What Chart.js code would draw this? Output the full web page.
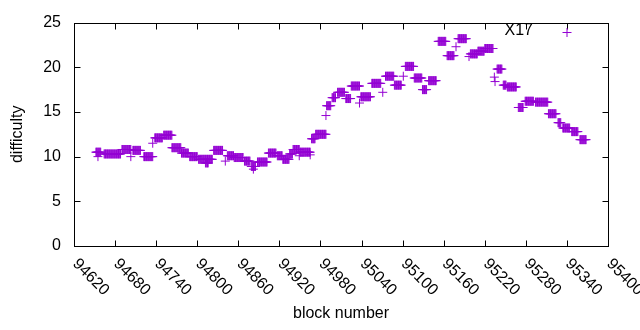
<!DOCTYPE html>
<html>
<head>
<meta charset="utf-8">
<script src="https://cdn.jsdelivr.net/npm/chart.js@4"></script>
<style>
  html, body { margin: 0; padding: 0; background: #fff; }
</style>
</head>
<body>
<canvas id="chart" width="640" height="330"></canvas>
<script>
// runs of blocks that share one difficulty value (first block, last block, difficulty)
const runStart = [94652, 94655, 94664, 94690, 94703, 94706, 94722, 94735, 94738, 94751,
  94763, 94764, 94777, 94789, 94802, 94812, 94824, 94841, 94844, 94854,
  94869, 94879, 94882, 94888, 94904, 94917, 94925, 94935, 94940, 94949,
  94950, 94965, 94967, 94973, 94988, 94989, 94997, 95005, 95017, 95025,
  95037, 95039, 95055, 95071, 95075, 95088, 95101, 95104, 95117, 95129,
  95138, 95152, 95165, 95178, 95181, 95197, 95199, 95210, 95220, 95234,
  95235, 95238, 95247, 95253, 95269, 95279, 95294, 95313, 95327, 95334,
  95347, 95359];
const runEnd = [94659, 94655, 94688, 94703, 94703, 94717, 94735, 94735, 94749, 94763,
  94763, 94776, 94787, 94800, 94822, 94816, 94837, 94841, 94853, 94867,
  94877, 94885, 94882, 94902, 94915, 94924, 94934, 94939, 94949, 94949,
  94965, 94965, 94972, 94988, 94988, 94995, 95002, 95015, 95024, 95037,
  95037, 95053, 95068, 95071, 95087, 95098, 95101, 95116, 95128, 95135,
  95149, 95163, 95175, 95178, 95193, 95197, 95209, 95219, 95232, 95234,
  95235, 95245, 95251, 95266, 95276, 95291, 95312, 95324, 95331, 95344,
  95356, 95368];
const runDiff = [10.5, 10.0, 10.3, 10.8, 10.0, 10.7, 10.0, 11.5, 12.1, 12.4,
  11.0, 11.0, 10.4, 10.0, 9.7, 9.3, 10.7, 9.5, 10.1, 9.9,
  9.5, 8.9, 8.6, 9.4, 10.4, 10.1, 9.7, 10.3, 10.8, 10.1,
  10.5, 10.2, 12.0, 12.5, 14.6, 15.7, 16.6, 17.2, 16.5, 17.9,
  16.0, 16.7, 18.2, 17.2, 19.0, 18.0, 19.0, 20.1, 18.8, 17.5,
  18.5, 22.9, 21.3, 22.3, 23.2, 21.2, 21.5, 21.8, 22.1, 18.9,
  18.4, 19.8, 18.0, 17.8, 15.5, 16.2, 16.1, 14.8, 13.8, 13.2,
  12.8, 11.9];

const xTicks = [94620, 94680, 94740, 94800, 94860, 94920, 94980, 95040, 95100, 95160, 95220, 95280, 95340, 95400];
const yTicks = [0, 5, 10, 15, 20, 25];
const seriesName = 'X17';

const purple = '#9400d3';
const font = '"Liberation Sans", Arial, sans-serif';

const points = [];
runStart.forEach((s, i) => {
  for (let b = s; b <= runEnd[i]; b++) points.push({ x: b, y: runDiff[i] });
});

// gnuplot-like frame: box, inward ticks on all sides, slanted x labels, key
const frame = {
  id: 'frame',
  afterDraw(chart) {
    const { ctx, chartArea: a, scales: { x, y } } = chart;
    const L = Math.round(a.left) + 0.5, R = Math.round(a.right) + 0.5;
    const T = Math.round(a.top) + 0.5, B = Math.round(a.bottom) + 0.5;
    ctx.save();
    ctx.strokeStyle = '#000';
    ctx.lineWidth = 1;
    ctx.beginPath();
    xTicks.forEach(v => {
      const px = Math.round(x.getPixelForValue(v)) + 0.5;
      ctx.moveTo(px, B); ctx.lineTo(px, B - 6);
      ctx.moveTo(px, T); ctx.lineTo(px, T + 6);
    });
    yTicks.forEach(v => {
      const py = Math.round(y.getPixelForValue(v)) + 0.5;
      ctx.moveTo(L, py); ctx.lineTo(L + 6, py);
      ctx.moveTo(R, py); ctx.lineTo(R - 6, py);
    });
    ctx.stroke();
    ctx.strokeRect(L, T, R - L, B - T);

    ctx.fillStyle = '#000';
    ctx.font = '16px ' + font;
    ctx.textAlign = 'left';
    ctx.textBaseline = 'middle';
    xTicks.forEach(v => {
      const px = x.getPixelForValue(v);
      ctx.save();
      ctx.translate(px + 1, B + 15);
      ctx.rotate(Math.PI / 4);
      ctx.fillText(String(v), 0, 0);
      ctx.restore();
    });

    // key
    ctx.textAlign = 'right';
    ctx.fillText(seriesName, 533, 31);
    ctx.strokeStyle = purple;
    ctx.beginPath();
    ctx.moveTo(562.5, 32.5); ctx.lineTo(571.5, 32.5);
    ctx.moveTo(567, 28); ctx.lineTo(567, 37);
    ctx.stroke();
    ctx.restore();
  }
};

new Chart(document.getElementById('chart'), {
  type: 'scatter',
  data: {
    datasets: [{
      label: seriesName,
      data: points,
      pointStyle: 'cross',
      pointRadius: 4.5,
      pointHoverRadius: 4.5,
      borderWidth: 1,
      borderColor: purple,
      backgroundColor: purple
    }]
  },
  options: {
    responsive: false,
    animation: false,
    events: [],
    layout: { padding: { left: 0, right: 32, top: 19, bottom: 0 } },
    plugins: { legend: { display: false }, tooltip: { enabled: false } },
    scales: {
      x: {
        type: 'linear',
        min: 94620,
        max: 95400,
        grid: { display: false, drawTicks: false },
        border: { display: false },
        ticks: { display: false, stepSize: 60 },
        title: {
          display: true,
          text: 'block number',
          color: '#000',
          font: { family: font, size: 16 },
          padding: { top: 0, bottom: 7 }
        },
        afterFit(scale) { scale.height = 84; }
      },
      y: {
        min: 0,
        max: 25,
        grid: { display: false, drawTicks: false },
        border: { display: false },
        ticks: {
          stepSize: 5,
          padding: 13,
          color: '#000',
          font: { family: font, size: 16 }
        },
        title: {
          display: true,
          text: 'difficulty',
          color: '#000',
          font: { family: font, size: 16 },
          padding: { top: 8, bottom: 0 }
        },
        afterFit(scale) { scale.width = 74; }
      }
    }
  },
  plugins: [frame]
});
</script>
</body>
</html>
